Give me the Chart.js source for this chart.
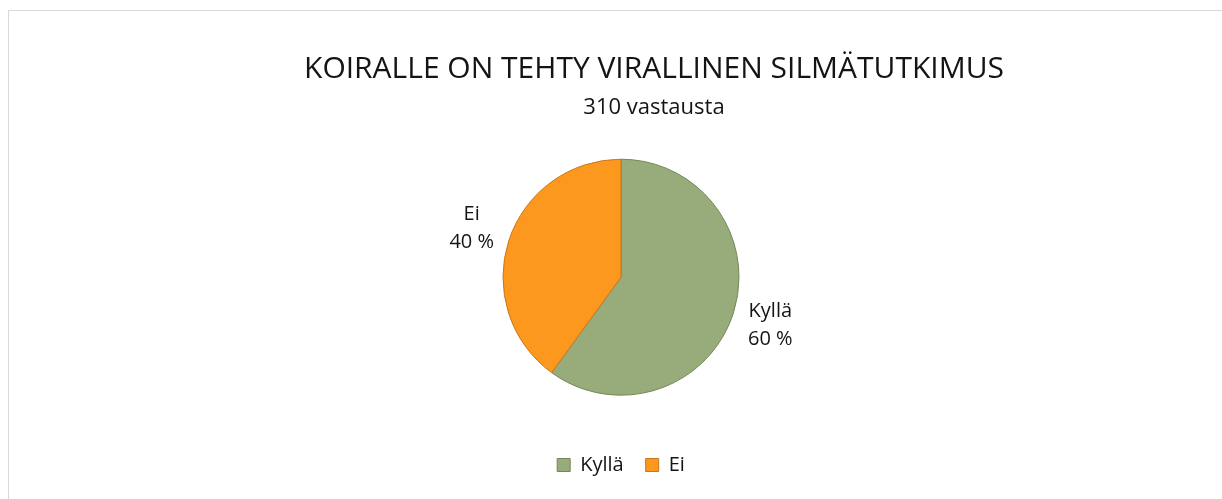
<!DOCTYPE html>
<html>
<head>
<meta charset="utf-8">
<script src="https://cdn.jsdelivr.net/npm/chart.js@4/dist/chart.umd.min.js"></script>
<style>
	html, body { margin: 0; padding: 0; background: #fff; overflow: hidden; }
	#kehys {
		position: absolute; left: 8px; top: 10px;
		width: 1300px; height: 600px;
		border: 1px solid #d9d9d9;
	}
	#kaavio { position: absolute; left: 0; top: 0; display: block; }
</style>
</head>
<body>
<div id="kehys"></div>
<canvas id="kaavio" width="1222" height="499"></canvas>
<script>
var otsikko = "KOIRALLE ON TEHTY VIRALLINEN SILMÄTUTKIMUS";
var alaotsikko = "310 vastausta";
var vastaukset = ["Kyllä", "Ei"];
var prosentit = [60, 40];
var varit = ["#97ac7a", "#fd981e"];
var reunavarit = ["#748857", "#c9761a"];

var fontti = "'Open Sans', sans-serif";
var tekstivari = "#141414";

// nimilaput siivujen ulkopuolelle, kaaren geometriasta
var nimilaput = {
	id: 'nimilaput',
	afterDatasetsDraw: function (chart)
	{
		var ctx = chart.ctx;
		var meta = chart.getDatasetMeta(0);
		ctx.save();
		ctx.font = "20px " + fontti;
		ctx.fillStyle = tekstivari;
		ctx.textAlign = "center";
		ctx.textBaseline = "middle";
		for (var i = 0; i < meta.data.length; i++)
		{
			var kaari = meta.data[i];
			var kulma = (kaari.startAngle + kaari.endAngle) / 2;
			var r = kaari.outerRadius + 39;
			var x = kaari.x + Math.cos(kulma) * r;
			var y = kaari.y + Math.sin(kulma) * r;
			ctx.fillText(chart.data.labels[i], x, y - 14);
			ctx.fillText(chart.data.datasets[0].data[i] + " %", x, y + 14);
		}
		ctx.restore();
	}
};

// tyhjä laatikko oikealle, siirtää piirakkaa vasemmalle otsikon alla
var vasenSiirto = {
	id: 'vasenSiirto',
	beforeInit: function (chart)
	{
		Chart.layouts.addBox(chart, {
			position: 'right',
			fullSize: false,
			weight: 0,
			options: {},
			width: 0,
			height: 0,
			isHorizontal: function () { return false; },
			update: function (maxW, maxH) { this.width = 66; this.height = maxH; },
			draw: function () {}
		});
	}
};

var konteksti = document.getElementById('kaavio').getContext('2d');
new Chart(konteksti, {
	type: 'pie',
	data: {
		labels: vastaukset,
		datasets: [{
			data: prosentit,
			backgroundColor: varit,
			borderColor: reunavarit,
			borderWidth: 1,
			radius: 118
		}]
	},
	options: {
		responsive: false,
		animation: false,
		layout: {
			padding: { left: 86, right: 0, top: 0, bottom: 14 }
		},
		plugins: {
			title: {
				display: true,
				text: otsikko,
				color: tekstivari,
				font: { family: fontti, size: 30, weight: 'normal' },
				padding: { top: 51, bottom: 8 }
			},
			subtitle: {
				display: true,
				text: alaotsikko,
				color: tekstivari,
				font: { family: fontti, size: 22, weight: 'normal' },
				padding: { top: 0, bottom: 0 }
			},
			legend: {
				position: 'bottom',
				fullSize: false,
				labels: {
					color: tekstivari,
					font: { family: fontti, size: 20 },
					boxWidth: 13,
					boxHeight: 13,
					padding: 22
				}
			},
			tooltip: { enabled: false }
		}
	},
	plugins: [nimilaput, vasenSiirto]
});
</script>
</body>
</html>
